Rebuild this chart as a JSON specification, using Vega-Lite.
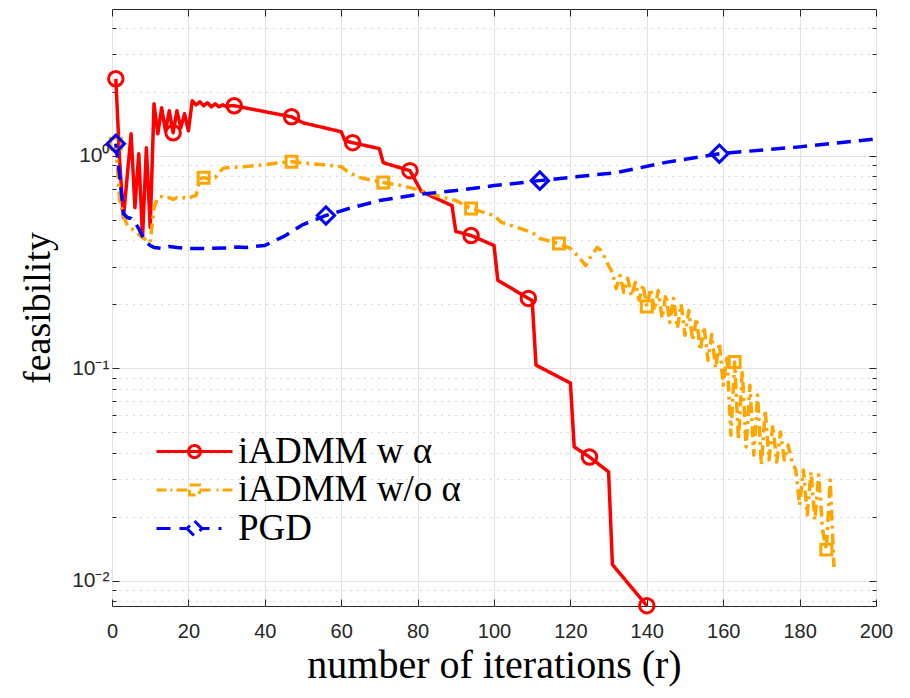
{
  "$schema": "https://vega.github.io/schema/vega-lite/v6.json",
  "width": 764,
  "height": 597,
  "autosize": {"type": "none"},
  "padding": {"left": 112, "top": 9, "right": 34, "bottom": 92},
  "background": "white",
  "config": {
    "view": {"stroke": "#262626", "strokeWidth": 1},
    "axis": {"domain": false},
    "legend": {
      "padding": 0,
      "labelLimit": 0,
      "labelFont": "Liberation Serif", "labelFontSize": 37, "labelColor": "black",
      "labelOffset": 25, "symbolSize": 400, "rowPadding": 0.5, "symbolStrokeWidth": 3
    }
  },
  "data": {
    "values": [
      {"s": "iADMM w α", "it": 1, "v": 2.30},
      {"s": "iADMM w α", "it": 2, "v": 0.947},
      {"s": "iADMM w α", "it": 3, "v": 0.512},
      {"s": "iADMM w α", "it": 4, "v": 0.806},
      {"s": "iADMM w α", "it": 5, "v": 1.268},
      {"s": "iADMM w α", "it": 6, "v": 0.570},
      {"s": "iADMM w α", "it": 7, "v": 1.022},
      {"s": "iADMM w α", "it": 8, "v": 0.412},
      {"s": "iADMM w α", "it": 9, "v": 1.090},
      {"s": "iADMM w α", "it": 10, "v": 0.459},
      {"s": "iADMM w α", "it": 11, "v": 1.754},
      {"s": "iADMM w α", "it": 12, "v": 1.268},
      {"s": "iADMM w α", "it": 13, "v": 1.680},
      {"s": "iADMM w α", "it": 14, "v": 1.310},
      {"s": "iADMM w α", "it": 15, "v": 1.627},
      {"s": "iADMM w α", "it": 16, "v": 1.282},
      {"s": "iADMM w α", "it": 17, "v": 1.627},
      {"s": "iADMM w α", "it": 18, "v": 1.354},
      {"s": "iADMM w α", "it": 19, "v": 1.574},
      {"s": "iADMM w α", "it": 20, "v": 1.310},
      {"s": "iADMM w α", "it": 21, "v": 1.812},
      {"s": "iADMM w α", "it": 22, "v": 1.735},
      {"s": "iADMM w α", "it": 23, "v": 1.793},
      {"s": "iADMM w α", "it": 24, "v": 1.717},
      {"s": "iADMM w α", "it": 25, "v": 1.774},
      {"s": "iADMM w α", "it": 26, "v": 1.698},
      {"s": "iADMM w α", "it": 27, "v": 1.754},
      {"s": "iADMM w α", "it": 28, "v": 1.698},
      {"s": "iADMM w α", "it": 29, "v": 1.735},
      {"s": "iADMM w α", "it": 30, "v": 1.698},
      {"s": "iADMM w α", "it": 31, "v": 1.717},
      {"s": "iADMM w α", "it": 32, "v": 1.717},
      {"s": "iADMM w α", "it": 47, "v": 1.524},
      {"s": "iADMM w α", "it": 50, "v": 1.428},
      {"s": "iADMM w α", "it": 60, "v": 1.296},
      {"s": "iADMM w α", "it": 61, "v": 1.176},
      {"s": "iADMM w α", "it": 63, "v": 1.151},
      {"s": "iADMM w α", "it": 70, "v": 1.079},
      {"s": "iADMM w α", "it": 71, "v": 0.927},
      {"s": "iADMM w α", "it": 78, "v": 0.850},
      {"s": "iADMM w α", "it": 79, "v": 0.788},
      {"s": "iADMM w α", "it": 81, "v": 0.678},
      {"s": "iADMM w α", "it": 89, "v": 0.582},
      {"s": "iADMM w α", "it": 90, "v": 0.440},
      {"s": "iADMM w α", "it": 94, "v": 0.421},
      {"s": "iADMM w α", "it": 100, "v": 0.378},
      {"s": "iADMM w α", "it": 101, "v": 0.259},
      {"s": "iADMM w α", "it": 109, "v": 0.213},
      {"s": "iADMM w α", "it": 110, "v": 0.208},
      {"s": "iADMM w α", "it": 111, "v": 0.1033},
      {"s": "iADMM w α", "it": 120, "v": 0.0851},
      {"s": "iADMM w α", "it": 121, "v": 0.0426},
      {"s": "iADMM w α", "it": 125, "v": 0.0382},
      {"s": "iADMM w α", "it": 130, "v": 0.0325},
      {"s": "iADMM w α", "it": 131, "v": 0.0119},
      {"s": "iADMM w α", "it": 140, "v": 0.00763},

      {"s": "iADMM w/o α", "it": 1, "v": 1.138},
      {"s": "iADMM w/o α", "it": 2, "v": 0.615},
      {"s": "iADMM w/o α", "it": 3, "v": 0.523},
      {"s": "iADMM w/o α", "it": 4, "v": 0.469},
      {"s": "iADMM w/o α", "it": 5, "v": 0.455},
      {"s": "iADMM w/o α", "it": 6, "v": 0.444},
      {"s": "iADMM w/o α", "it": 7, "v": 0.426},
      {"s": "iADMM w/o α", "it": 8, "v": 0.412},
      {"s": "iADMM w/o α", "it": 9, "v": 0.399},
      {"s": "iADMM w/o α", "it": 10, "v": 0.390},
      {"s": "iADMM w/o α", "it": 11, "v": 0.570},
      {"s": "iADMM w/o α", "it": 12, "v": 0.635},
      {"s": "iADMM w/o α", "it": 13, "v": 0.642},
      {"s": "iADMM w/o α", "it": 14, "v": 0.628},
      {"s": "iADMM w/o α", "it": 15, "v": 0.635},
      {"s": "iADMM w/o α", "it": 16, "v": 0.622},
      {"s": "iADMM w/o α", "it": 17, "v": 0.635},
      {"s": "iADMM w/o α", "it": 18, "v": 0.628},
      {"s": "iADMM w/o α", "it": 19, "v": 0.635},
      {"s": "iADMM w/o α", "it": 20, "v": 0.628},
      {"s": "iADMM w/o α", "it": 21, "v": 0.642},
      {"s": "iADMM w/o α", "it": 22, "v": 0.649},
      {"s": "iADMM w/o α", "it": 23, "v": 0.780},
      {"s": "iADMM w/o α", "it": 24, "v": 0.788},
      {"s": "iADMM w/o α", "it": 25, "v": 0.780},
      {"s": "iADMM w/o α", "it": 26, "v": 0.797},
      {"s": "iADMM w/o α", "it": 27, "v": 0.788},
      {"s": "iADMM w/o α", "it": 28, "v": 0.832},
      {"s": "iADMM w/o α", "it": 29, "v": 0.869},
      {"s": "iADMM w/o α", "it": 30, "v": 0.878},
      {"s": "iADMM w/o α", "it": 35, "v": 0.888},
      {"s": "iADMM w/o α", "it": 40, "v": 0.907},
      {"s": "iADMM w/o α", "it": 44, "v": 0.927},
      {"s": "iADMM w/o α", "it": 47, "v": 0.937},
      {"s": "iADMM w/o α", "it": 60, "v": 0.888},
      {"s": "iADMM w/o α", "it": 62, "v": 0.832},
      {"s": "iADMM w/o α", "it": 65, "v": 0.788},
      {"s": "iADMM w/o α", "it": 71, "v": 0.747},
      {"s": "iADMM w/o α", "it": 76, "v": 0.723},
      {"s": "iADMM w/o α", "it": 81, "v": 0.685},
      {"s": "iADMM w/o α", "it": 85, "v": 0.649},
      {"s": "iADMM w/o α", "it": 90, "v": 0.615},
      {"s": "iADMM w/o α", "it": 94, "v": 0.564},
      {"s": "iADMM w/o α", "it": 100, "v": 0.523},
      {"s": "iADMM w/o α", "it": 102, "v": 0.485},
      {"s": "iADMM w/o α", "it": 110, "v": 0.435},
      {"s": "iADMM w/o α", "it": 112, "v": 0.408},
      {"s": "iADMM w/o α", "it": 117, "v": 0.386},
      {"s": "iADMM w/o α", "it": 120, "v": 0.366},
      {"s": "iADMM w/o α", "it": 122, "v": 0.336},
      {"s": "iADMM w/o α", "it": 124, "v": 0.304},
      {"s": "iADMM w/o α", "it": 125, "v": 0.328},
      {"s": "iADMM w/o α", "it": 127, "v": 0.370},
      {"s": "iADMM w/o α", "it": 128, "v": 0.358},
      {"s": "iADMM w/o α", "it": 129, "v": 0.332},
      {"s": "iADMM w/o α", "it": 130, "v": 0.304},
      {"s": "iADMM w/o α", "it": 131, "v": 0.282},
      {"s": "iADMM w/o α", "it": 132, "v": 0.237},
      {"s": "iADMM w/o α", "it": 133, "v": 0.273},
      {"s": "iADMM w/o α", "it": 134, "v": 0.227},
      {"s": "iADMM w/o α", "it": 135, "v": 0.265},
      {"s": "iADMM w/o α", "it": 136, "v": 0.218},
      {"s": "iADMM w/o α", "it": 137, "v": 0.253},
      {"s": "iADMM w/o α", "it": 138, "v": 0.209},
      {"s": "iADMM w/o α", "it": 139, "v": 0.248},
      {"s": "iADMM w/o α", "it": 140, "v": 0.195},
      {"s": "iADMM w/o α", "it": 141, "v": 0.237},
      {"s": "iADMM w/o α", "it": 142, "v": 0.187},
      {"s": "iADMM w/o α", "it": 143, "v": 0.232},
      {"s": "iADMM w/o α", "it": 144, "v": 0.172},
      {"s": "iADMM w/o α", "it": 145, "v": 0.223},
      {"s": "iADMM w/o α", "it": 146, "v": 0.164},
      {"s": "iADMM w/o α", "it": 147, "v": 0.213},
      {"s": "iADMM w/o α", "it": 148, "v": 0.154},
      {"s": "iADMM w/o α", "it": 149, "v": 0.200},
      {"s": "iADMM w/o α", "it": 150, "v": 0.143},
      {"s": "iADMM w/o α", "it": 151, "v": 0.187},
      {"s": "iADMM w/o α", "it": 152, "v": 0.135},
      {"s": "iADMM w/o α", "it": 153, "v": 0.172},
      {"s": "iADMM w/o α", "it": 154, "v": 0.121},
      {"s": "iADMM w/o α", "it": 155, "v": 0.157},
      {"s": "iADMM w/o α", "it": 156, "v": 0.109},
      {"s": "iADMM w/o α", "it": 157, "v": 0.144},
      {"s": "iADMM w/o α", "it": 158, "v": 0.100},
      {"s": "iADMM w/o α", "it": 159, "v": 0.132},
      {"s": "iADMM w/o α", "it": 160, "v": 0.0832},
      {"s": "iADMM w/o α", "it": 161, "v": 0.115},
      {"s": "iADMM w/o α", "it": 162, "v": 0.0484},
      {"s": "iADMM w/o α", "it": 163, "v": 0.107},
      {"s": "iADMM w/o α", "it": 164, "v": 0.0459},
      {"s": "iADMM w/o α", "it": 165, "v": 0.0979},
      {"s": "iADMM w/o α", "it": 166, "v": 0.0426},
      {"s": "iADMM w/o α", "it": 167, "v": 0.0832},
      {"s": "iADMM w/o α", "it": 168, "v": 0.0390},
      {"s": "iADMM w/o α", "it": 169, "v": 0.0747},
      {"s": "iADMM w/o α", "it": 170, "v": 0.0350},
      {"s": "iADMM w/o α", "it": 171, "v": 0.0635},
      {"s": "iADMM w/o α", "it": 172, "v": 0.0370},
      {"s": "iADMM w/o α", "it": 173, "v": 0.0540},
      {"s": "iADMM w/o α", "it": 174, "v": 0.0362},
      {"s": "iADMM w/o α", "it": 175, "v": 0.0501},
      {"s": "iADMM w/o α", "it": 176, "v": 0.0370},
      {"s": "iADMM w/o α", "it": 177, "v": 0.0435},
      {"s": "iADMM w/o α", "it": 178, "v": 0.0362},
      {"s": "iADMM w/o α", "it": 179, "v": 0.0332},
      {"s": "iADMM w/o α", "it": 180, "v": 0.0227},
      {"s": "iADMM w/o α", "it": 181, "v": 0.0332},
      {"s": "iADMM w/o α", "it": 182, "v": 0.0204},
      {"s": "iADMM w/o α", "it": 183, "v": 0.0325},
      {"s": "iADMM w/o α", "it": 184, "v": 0.0193},
      {"s": "iADMM w/o α", "it": 185, "v": 0.0315},
      {"s": "iADMM w/o α", "it": 186, "v": 0.0174},
      {"s": "iADMM w/o α", "it": 187, "v": 0.0140},
      {"s": "iADMM w/o α", "it": 188, "v": 0.0298},
      {"s": "iADMM w/o α", "it": 189, "v": 0.0116},

      {"s": "PGD", "it": 1, "v": 1.138},
      {"s": "PGD", "it": 2, "v": 0.806},
      {"s": "PGD", "it": 3, "v": 0.534},
      {"s": "PGD", "it": 4, "v": 0.512},
      {"s": "PGD", "it": 5, "v": 0.506},
      {"s": "PGD", "it": 6, "v": 0.485},
      {"s": "PGD", "it": 7, "v": 0.454},
      {"s": "PGD", "it": 8, "v": 0.417},
      {"s": "PGD", "it": 9, "v": 0.390},
      {"s": "PGD", "it": 10, "v": 0.378},
      {"s": "PGD", "it": 11, "v": 0.370},
      {"s": "PGD", "it": 13, "v": 0.366},
      {"s": "PGD", "it": 15, "v": 0.374},
      {"s": "PGD", "it": 17, "v": 0.370},
      {"s": "PGD", "it": 20, "v": 0.366},
      {"s": "PGD", "it": 25, "v": 0.366},
      {"s": "PGD", "it": 30, "v": 0.368},
      {"s": "PGD", "it": 33, "v": 0.372},
      {"s": "PGD", "it": 35, "v": 0.370},
      {"s": "PGD", "it": 40, "v": 0.378},
      {"s": "PGD", "it": 45, "v": 0.417},
      {"s": "PGD", "it": 50, "v": 0.474},
      {"s": "PGD", "it": 56, "v": 0.523},
      {"s": "PGD", "it": 62, "v": 0.564},
      {"s": "PGD", "it": 70, "v": 0.615},
      {"s": "PGD", "it": 80, "v": 0.656},
      {"s": "PGD", "it": 90, "v": 0.685},
      {"s": "PGD", "it": 100, "v": 0.723},
      {"s": "PGD", "it": 112, "v": 0.763},
      {"s": "PGD", "it": 122, "v": 0.797},
      {"s": "PGD", "it": 132, "v": 0.832},
      {"s": "PGD", "it": 145, "v": 0.93},
      {"s": "PGD", "it": 159, "v": 1.022},
      {"s": "PGD", "it": 180, "v": 1.10},
      {"s": "PGD", "it": 200, "v": 1.20}
    ]
  },
  "layer": [
    {
      "mark": {"type": "line", "strokeWidth": 3.5, "strokeJoin": "round"},
      "encoding": {
        "x": {
          "field": "it", "type": "quantitative",
          "scale": {"domain": [0, 200], "nice": false},
          "axis": {
            "values": [0, 20, 40, 60, 80, 100, 120, 140, 160, 180, 200],
            "grid": true, "gridColor": "#e3e3e3", "gridWidth": 1.2,
            "ticks": true, "tickSize": -7, "tickColor": "#262626", "tickWidth": 1,
            "labelFlush": false,
            "labelFont": "Liberation Sans", "labelFontSize": 20, "labelColor": "#262626",
            "labelPadding": 22,
            "title": "number of iterations (r)",
            "titleFont": "Liberation Serif", "titleFontSize": 40, "titleFontWeight": "normal",
            "titleColor": "black", "titlePadding": 4
          }
        },
        "y": {
          "field": "v", "type": "quantitative",
          "scale": {"type": "log", "domain": [0.0076, 4.9], "nice": false},
          "axis": {
            "values": [0.008, 0.009, 0.01, 0.02, 0.03, 0.04, 0.05, 0.06, 0.07, 0.08, 0.09, 0.1, 0.2, 0.3, 0.4, 0.5, 0.6, 0.7, 0.8, 0.9, 1, 2, 3, 4],
            "labelExpr": "datum.value == 1 ? '10⁰' : datum.value == 0.1 ? '10⁻¹' : datum.value == 0.01 ? '10⁻²' : ''",
            "grid": true,
            "gridDash": {"condition": {"test": "datum.value == 1 || datum.value == 0.1 || datum.value == 0.01", "value": []}, "value": [1, 6]},
            "gridColor": {"condition": {"test": "datum.value == 1 || datum.value == 0.1 || datum.value == 0.01", "value": "#e3e3e3"}, "value": "#b5b5b5"},
            "gridWidth": 1.2,
            "ticks": true, "tickColor": "#262626", "tickWidth": 1,
            "tickSize": {"condition": {"test": "datum.value == 1 || datum.value == 0.1 || datum.value == 0.01", "value": -7}, "value": -4},
            "labelFont": "Liberation Sans", "labelFontSize": 21, "labelColor": "#262626",
            "labelPadding": 10,
            "title": "feasibility",
            "titleFont": "Liberation Serif", "titleFontSize": 38, "titleFontWeight": "normal",
            "titleColor": "black", "titlePadding": 14
          }
        },
        "color": {
          "field": "s", "type": "nominal",
          "scale": {"domain": ["iADMM w α", "iADMM w/o α", "PGD"], "range": ["#ff0000", "#ffa500", "#0000ff"]},
          "legend": {
            "title": null,
            "orient": "none", "legendX": 64, "legendY": 424,
            "encode": {
              "symbols": {
                "update": {
                  "shape": {"signal": "datum.value === 'PGD' ? 'M-3.8,0H-2.4M-1.5,0H-0.75M0.75,0H1.5M2.4,0H2.7M0,-0.75L0.75,0L0,0.75L-0.75,0Z' : datum.value === 'iADMM w/o α' ? 'M-3.8,0H-2.8M-2.4,0H-2.2M-1.8,0H-0.5M0.5,0H1.8M2.2,0H2.4M2.8,0H3.8M-0.5,-0.5H0.5V0.5H-0.5Z' : 'M-3.8,0H3.8M0.6,0A0.6,0.6,0,1,1,-0.6,0A0.6,0.6,0,1,1,0.6,0'"},
                  "strokeDash": {"value": [1, 0]},
                  "fill": {"value": "transparent"},
                  "strokeWidth": {"value": 3},
                  "size": {"value": 400}
                }
              }
            }
          }
        },
        "strokeDash": {
          "field": "s", "type": "nominal", "legend": null,
          "scale": {"domain": ["iADMM w α", "iADMM w/o α", "PGD"], "range": [[1, 0], [11, 5, 3, 5], [14, 8]]}
        }
      }
    },
    {
      "transform": [
        {"filter": "datum.s === 'iADMM w α' && indexof([1,16,32,47,63,78,94,109,125,140], datum.it) >= 0"}
      ],
      "mark": {"type": "point", "shape": "circle", "size": 210, "filled": false, "strokeWidth": 3, "opacity": 1},
      "encoding": {
        "x": {
          "field": "it", "type": "quantitative",
          "axis": {
            "orient": "top", "values": [0, 20, 40, 60, 80, 100, 120, 140, 160, 180, 200],
            "labels": false, "grid": false, "title": null,
            "ticks": true, "tickSize": -7, "tickColor": "#262626", "tickWidth": 1
          }
        },
        "y": {
          "field": "v", "type": "quantitative",
          "axis": {
            "orient": "right",
            "values": [0.008, 0.009, 0.01, 0.02, 0.03, 0.04, 0.05, 0.06, 0.07, 0.08, 0.09, 0.1, 0.2, 0.3, 0.4, 0.5, 0.6, 0.7, 0.8, 0.9, 1, 2, 3, 4],
            "labels": false, "grid": false, "title": null,
            "ticks": true, "tickColor": "#262626", "tickWidth": 1,
            "tickSize": {"condition": {"test": "datum.value == 1 || datum.value == 0.1 || datum.value == 0.01", "value": -7}, "value": -4}
          }
        },
        "color": {"field": "s", "type": "nominal"}
      }
    },
    {
      "transform": [
        {"filter": "datum.s === 'iADMM w/o α' && indexof([1,24,47,71,94,117,140,163,187], datum.it) >= 0"}
      ],
      "mark": {"type": "point", "shape": "square", "size": 120, "filled": false, "strokeWidth": 3, "opacity": 1},
      "encoding": {
        "x": {"field": "it", "type": "quantitative", "axis": null},
        "y": {"field": "v", "type": "quantitative", "axis": null},
        "color": {"field": "s", "type": "nominal"}
      }
    },
    {
      "transform": [
        {"filter": "datum.s === 'PGD' && indexof([1,56,112,159], datum.it) >= 0"}
      ],
      "mark": {"type": "point", "shape": "diamond", "size": 300, "filled": false, "strokeWidth": 3, "opacity": 1},
      "encoding": {
        "x": {"field": "it", "type": "quantitative", "axis": null},
        "y": {"field": "v", "type": "quantitative", "axis": null},
        "color": {"field": "s", "type": "nominal"}
      }
    }
  ],
  "resolve": {"axis": {"x": "independent", "y": "independent"}}
}
